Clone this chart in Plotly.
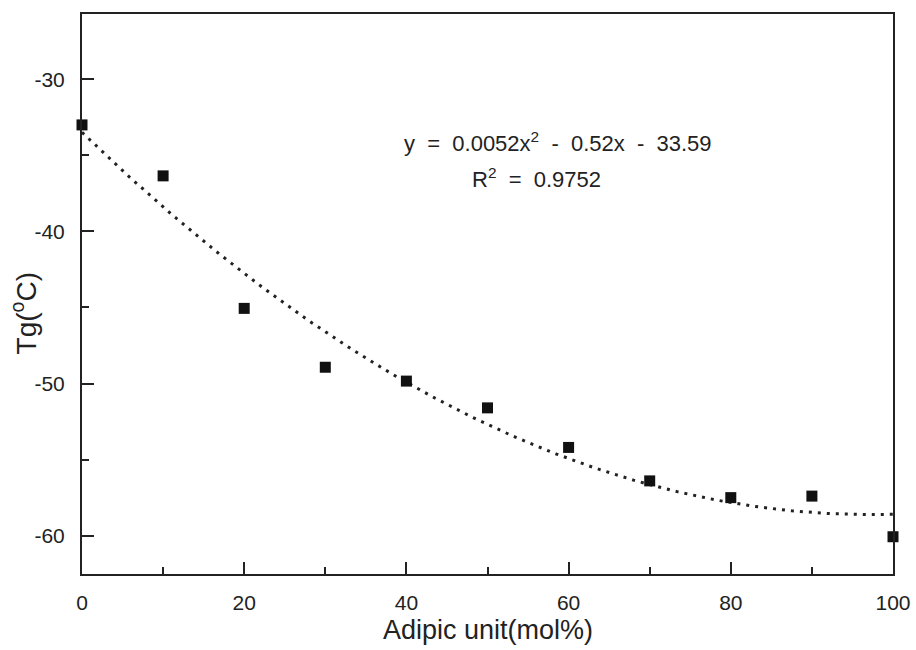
import numpy as np
import plotly.graph_objects as go

adipic = [0, 10, 20, 30, 40, 50, 60, 70, 80, 90, 100]
tg = [-33.0, -36.35, -45.06, -48.93, -49.84, -51.6, -54.2, -56.4, -57.5, -57.4, -60.07]
x_ticks = [0, 20, 40, 60, 80, 100]
x_ticktext = ["0", "20", "40", "60", "80", "100"]
y_ticks = [-30, -40, -50, -60]
y_ticktext = ["-30", "-40", "-50", "-60"]
x_title = "Adipic unit(mol%)"
y_title = "Tg(<sup>o</sup>C)"
eq_text = "y  =  0.0052x<sup>2</sup>  -  0.52x  -  33.59"
r2_text = "R<sup>2</sup>  =  0.9752"

coef = np.polyfit(adipic, tg, 2)
xf = np.linspace(0, 100, 201)
yf = np.polyval(coef, xf)

fig = go.Figure()
fig.add_trace(go.Scatter(x=xf, y=yf, mode="lines",
                         line=dict(color="#222", width=3, dash="3px,6px"),
                         showlegend=False, hoverinfo="skip"))
fig.add_trace(go.Scatter(x=adipic, y=tg, mode="markers",
                         marker=dict(symbol="square", size=11, color="#111"),
                         showlegend=False, cliponaxis=False))

font = "Liberation Sans, Arial, sans-serif"
fig.add_annotation(x=0.587, y=0.80, xref="paper", yref="paper", text=eq_text,
                   showarrow=False, font=dict(family=font, size=22, color="#222"))
fig.add_annotation(x=0.560, y=0.735, xref="paper", yref="paper", text=r2_text,
                   showarrow=False, font=dict(family=font, size=22, color="#222"))
fig.add_annotation(x=0.5, y=-0.1, xref="paper", yref="paper", text=x_title,
                   showarrow=False, yanchor="middle",
                   font=dict(family=font, size=27, color="#222"))
fig.add_annotation(x=-0.071, y=0.466, xref="paper", yref="paper", text=y_title,
                   showarrow=False, textangle=-90, xanchor="center",
                   font=dict(family=font, size=28, color="#222"))

axis_common = dict(showline=True, linecolor="#222", linewidth=2, mirror=True,
                   ticks="inside", tickcolor="#222", tickwidth=2, ticklen=12,
                   showgrid=False, zeroline=False, automargin=False,
                   tickfont=dict(family=font, size=21, color="#222"))

fig.update_xaxes(range=[0, 100], tickvals=x_ticks, ticktext=x_ticktext, ticklabelstandoff=9,
                 minor=dict(ticks="inside", ticklen=7, tickwidth=2, tickcolor="#222", dtick=10, showgrid=False),
                 **axis_common)
fig.update_yaxes(range=[-62.52, -25.71], tickvals=y_ticks, ticktext=y_ticktext, ticklabelstandoff=11,
                 minor=dict(ticks="inside", ticklen=7, tickwidth=2, tickcolor="#222", dtick=5, tick0=-35, showgrid=False),
                 **axis_common)

fig.update_layout(width=916, height=650, margin=dict(l=82, r=23, t=14, b=76),
                  plot_bgcolor="white", paper_bgcolor="white")
fig.write_html("out.html")
